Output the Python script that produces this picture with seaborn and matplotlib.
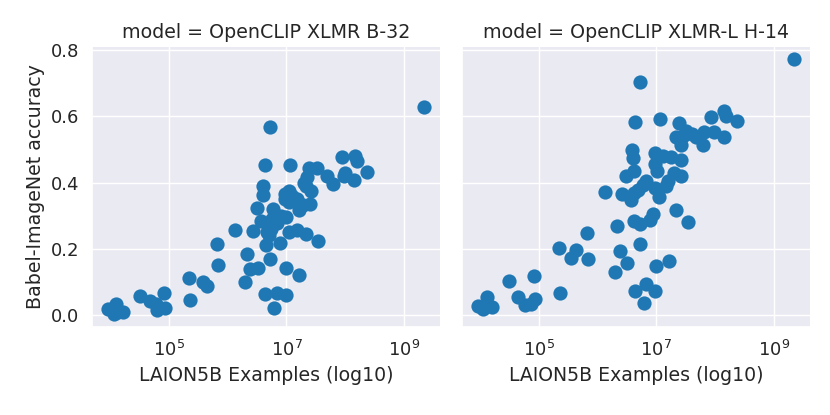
import numpy as np
import pandas as pd
import matplotlib
matplotlib.use('Agg')
import matplotlib.pyplot as plt
import seaborn as sns

# model names (facet columns)
models = ['OpenCLIP XLMR B-32', 'OpenCLIP XLMR-L H-14']

# log10 of LAION5B examples per language
b32_log_examples = [9.345, 6.723, 6.638, 7.056, 7.938, 8.164, 8.203, 8.362, 8.147, 7.791,
                    7.977, 7.695, 7.384, 7.514, 7.356, 7.328, 7.412, 7.401, 7.288, 7.215,
                    7.175, 7.045, 6.972, 6.972, 7.045, 6.593, 6.593, 6.492, 6.763, 6.989,
                    6.565, 6.836, 6.734, 6.661, 6.706, 6.424, 6.124, 7.045, 7.175, 7.339,
                    7.537, 6.893, 6.650, 5.819, 6.328, 6.723, 5.842, 6.379, 6.520, 6.999,
                    6.299, 7.215, 5.350, 5.576, 5.650, 5.362, 4.915, 4.503, 4.672, 4.785,
                    4.802, 4.938, 6.638, 6.847, 6.989, 6.780, 3.966, 4.107, 4.068, 4.220,
                    4.136, 7.100, 7.300, 8.000, 6.760, 6.900]
b32_accuracy = [0.629, 0.566, 0.453, 0.453, 0.477, 0.479, 0.466, 0.431, 0.409, 0.396,
                0.421, 0.421, 0.443, 0.443, 0.416, 0.391, 0.374, 0.336, 0.331, 0.316,
                0.351, 0.376, 0.366, 0.349, 0.341, 0.391, 0.361, 0.324, 0.321, 0.296,
                0.283, 0.278, 0.261, 0.251, 0.241, 0.253, 0.258, 0.251, 0.258, 0.246,
                0.223, 0.218, 0.213, 0.216, 0.186, 0.171, 0.151, 0.139, 0.143, 0.141,
                0.101, 0.121, 0.111, 0.101, 0.088, 0.046, 0.068, 0.058, 0.043, 0.033,
                0.016, 0.023, 0.063, 0.068, 0.061, 0.021, 0.018, 0.033, 0.004, 0.009,
                0.011, 0.360, 0.400, 0.430, 0.290, 0.300]

h14_log_examples = [9.345, 6.718, 6.633, 7.056, 7.932, 8.158, 8.186, 8.367, 8.147, 7.989,
                    7.808, 7.791, 7.678, 7.384, 7.508, 7.339, 7.424, 7.424, 6.983, 7.113,
                    7.254, 6.972, 7.011, 6.593, 6.605, 6.621, 6.492, 7.299, 7.412, 7.198,
                    7.169, 6.831, 6.774, 6.689, 6.616, 6.576, 6.424, 6.124, 6.972, 7.040,
                    6.944, 6.898, 6.621, 6.718, 7.339, 7.537, 6.333, 5.825, 6.718, 6.379,
                    6.508, 6.294, 7.000, 7.215, 5.345, 5.644, 5.559, 5.842, 5.362, 4.921,
                    4.497, 4.655, 4.768, 4.864, 4.938, 6.633, 6.831, 6.983, 6.785, 3.966,
                    4.119, 4.062, 4.215, 7.450, 7.600]
h14_accuracy = [0.771, 0.703, 0.583, 0.591, 0.598, 0.616, 0.599, 0.584, 0.536, 0.553,
                0.551, 0.514, 0.536, 0.578, 0.556, 0.536, 0.513, 0.469, 0.489, 0.481,
                0.478, 0.456, 0.436, 0.499, 0.473, 0.436, 0.421, 0.429, 0.421, 0.406,
                0.391, 0.406, 0.393, 0.378, 0.368, 0.346, 0.366, 0.371, 0.383, 0.356,
                0.306, 0.286, 0.283, 0.276, 0.318, 0.281, 0.268, 0.249, 0.214, 0.193,
                0.159, 0.131, 0.148, 0.164, 0.203, 0.196, 0.174, 0.171, 0.066, 0.119,
                0.103, 0.056, 0.031, 0.033, 0.049, 0.073, 0.093, 0.073, 0.036, 0.029,
                0.056, 0.018, 0.026, 0.540, 0.545]

df = pd.concat([
    pd.DataFrame({'model': models[0],
                  'LAION5B Examples (log10)': 10 ** np.array(b32_log_examples),
                  'Babel-ImageNet accuracy': b32_accuracy}),
    pd.DataFrame({'model': models[1],
                  'LAION5B Examples (log10)': 10 ** np.array(h14_log_examples),
                  'Babel-ImageNet accuracy': h14_accuracy}),
])

sns.set_theme(style='darkgrid')
plt.rcParams['font.family'] = ['DejaVu Sans']

g = sns.relplot(data=df, x='LAION5B Examples (log10)', y='Babel-ImageNet accuracy',
                col='model', kind='scatter', s=105, linewidth=0, color='#1f77b4',
                height=4.15, aspect=1.0)
g.set(xscale='log')
g.figure.set_size_inches(8.3, 4.15)
g.figure.subplots_adjust(left=0.111, right=0.976, top=0.8875, bottom=0.2128, wspace=0.062)

for ax in g.axes.flat:
    ax.set_xticks([1e5, 1e7, 1e9])
    ax.set_yticks([0.0, 0.2, 0.4, 0.6, 0.8])
    ax.tick_params(labelsize=13)
    ax.set_title(ax.get_title(), fontsize=13.7)
    ax.xaxis.label.set_size(13.6)
    ax.yaxis.label.set_size(13.7)

g.figure.savefig('out.png', dpi=100)
